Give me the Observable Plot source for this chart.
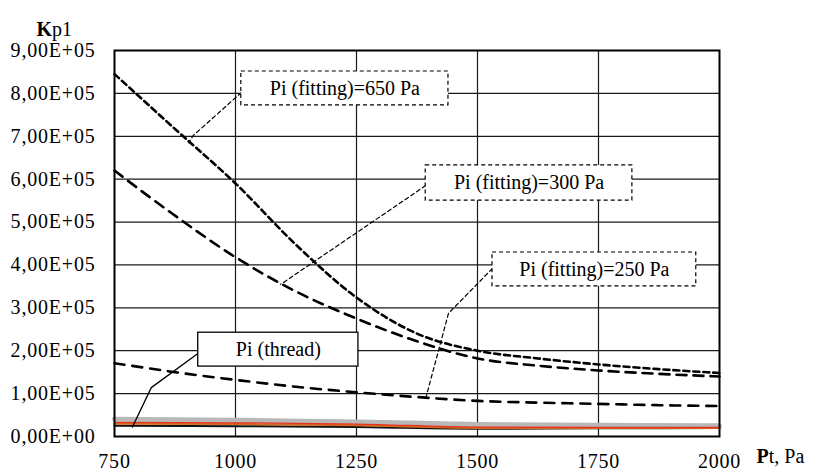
<!DOCTYPE html>
<html>
<head>
<meta charset="utf-8">
<script src="https://cdn.jsdelivr.net/npm/d3@7"></script>
<script src="https://cdn.jsdelivr.net/npm/@observablehq/plot@0.6"></script>
<style>
  html, body { margin: 0; padding: 0; background: #fff; }
</style>
</head>
<body>
<div id="chart"></div>
<script>
// ---- data ----
const xPts = [750, 875, 1000, 1125, 1250, 1375, 1500, 1625, 1750, 1875, 2000];
const kp650 = [845000, 717000, 590000, 447000, 324000, 240000, 200000, 182000, 168000, 157000, 148000];
const kp300 = [620000, 515000, 418000, 338000, 275000, 222000, 182000, 165000, 154000, 146000, 140000];
const kp250 = [171000, 150000, 132000, 116000, 103000, 92000, 83000, 79000, 76000, 73000, 71000];

const xThread = [750, 1000, 1250, 1500, 1750, 2000];
const threadGrey = [40000, 38000, 34000, 28000, 26000, 25000];
const threadRed = [33000, 32000, 29000, 22000, 21000, 21000];
const threadOrange = [30000, 29000, 26000, 20000, 20000, 20000];
const threadBlack = [25000, 24000, 22000, 18000, 19000, 20000];

const xTicks = [750, 1000, 1250, 1500, 1750, 2000];
const xTickLabels = ["750", "1000", "1250", "1500", "1750", "2000"];
const xGrid = [1000, 1250, 1500, 1750];
const yTicks = [0, 100000, 200000, 300000, 400000, 500000, 600000, 700000, 800000, 900000];
const yTickLabels = ["0,00E+00", "1,00E+05", "2,00E+05", "3,00E+05", "4,00E+05",
                     "5,00E+05", "6,00E+05", "7,00E+05", "8,00E+05", "9,00E+05"];

// annotation boxes (data units) and their texts
const boxLabels = ["Pi (fitting)=650 Pa", "Pi (fitting)=300 Pa", "Pi (fitting)=250 Pa", "Pi (thread)"];
const boxX1 = [1012, 1393, 1531, 923];
const boxX2 = [1440, 1820, 1952, 1254];
const boxY1 = [772000, 550000, 350000, 163000];
const boxY2 = [851000, 632000, 429000, 242000];
const boxDashed = [true, true, true, false];

// leader lines (data units), one array of points per box
const leader650 = [[1012, 802000], [913, 702000], [903, 685000]];
const leader300 = [[1393, 585000], [1099, 359000], [1093, 355000]];
const leader250 = [[1531, 392000], [1440, 287000], [1393, 89000]];
const leaderThread = [[928, 198000], [826, 114000], [787, 22000]];

// ---- build tables ----
const series = (xs, ys) => xs.map((x, i) => ({x, y: ys[i]}));
const pts = (arr) => arr.map(([x, y]) => ({x, y}));
const boxes = boxLabels.map((label, i) => ({
  label, x1: boxX1[i], x2: boxX2[i], y1: boxY1[i], y2: boxY2[i], dashed: boxDashed[i]
}));

const serif = "Liberation Serif, Times New Roman, serif";

const chart = Plot.plot({
  width: 813,
  height: 472,
  marginLeft: 114,
  marginRight: 94,
  marginTop: 50,
  marginBottom: 36,
  style: {fontFamily: serif, fontSize: "20px", background: "#fff", color: "#000", overflow: "visible"},
  x: {domain: [750, 2000], label: null},
  y: {domain: [0, 900000], label: null},
  marks: [
    Plot.gridY(yTicks, {stroke: "#1a1a1a", strokeOpacity: 1, strokeWidth: 1.2}),
    Plot.gridX(xGrid, {stroke: "#1a1a1a", strokeOpacity: 1, strokeWidth: 1.2}),

    // thread family near zero
    Plot.line(series(xThread, threadGrey), {x: "x", y: "y", stroke: "#b8b8b8", strokeWidth: 5, curve: "monotone-x"}),
    Plot.line(series(xThread, threadBlack), {x: "x", y: "y", stroke: "#111", strokeWidth: 2, curve: "monotone-x"}),
    Plot.line(series(xThread, threadOrange), {x: "x", y: "y", stroke: "#d2691e", strokeWidth: 2, curve: "monotone-x"}),
    Plot.line(series(xThread, threadRed), {x: "x", y: "y", stroke: "#e8321e", strokeWidth: 1.3, curve: "monotone-x"}),

    // fitting curves
    Plot.line(series(xPts, kp650), {x: "x", y: "y", stroke: "#000", strokeWidth: 2.6, strokeDasharray: "6,4", curve: "monotone-x"}),
    Plot.line(series(xPts, kp300), {x: "x", y: "y", stroke: "#000", strokeWidth: 2.6, strokeDasharray: "10,7", curve: "monotone-x"}),
    Plot.line(series(xPts, kp250), {x: "x", y: "y", stroke: "#000", strokeWidth: 2.6, strokeDasharray: "10,8", curve: "monotone-x"}),

    // leaders
    Plot.line(pts(leader650), {x: "x", y: "y", stroke: "#000", strokeWidth: 1.2, strokeDasharray: "4,3"}),
    Plot.line(pts(leader300), {x: "x", y: "y", stroke: "#000", strokeWidth: 1.2, strokeDasharray: "4,3"}),
    Plot.line(pts(leader250), {x: "x", y: "y", stroke: "#000", strokeWidth: 1.2, strokeDasharray: "4,3"}),
    Plot.line(pts(leaderThread), {x: "x", y: "y", stroke: "#000", strokeWidth: 1.3}),

    // boxes
    Plot.rect(boxes.filter(d => d.dashed), {x1: "x1", x2: "x2", y1: "y1", y2: "y2", fill: "#fff", stroke: "#000", strokeWidth: 1.2, strokeDasharray: "4,3"}),
    Plot.rect(boxes.filter(d => !d.dashed), {x1: "x1", x2: "x2", y1: "y1", y2: "y2", fill: "#fff", stroke: "#000", strokeWidth: 1.3}),
    Plot.text(boxes, {x: d => (d.x1 + d.x2) / 2, y: d => (d.y1 + d.y2) / 2, text: "label", fontSize: 20, fill: "#000"}),

    Plot.frame({stroke: "#000", strokeWidth: 2}),

    Plot.axisY(yTicks, {tickSize: 0, tickPadding: 19, fontSize: 20, tickFormat: d => yTickLabels[yTicks.indexOf(d)], label: null}),
    Plot.axisX(xTicks, {tickSize: 0, tickPadding: 17, fontSize: 20, tickFormat: d => xTickLabels[xTicks.indexOf(d)], label: null}),

    Plot.text(["Kp1"], {frameAnchor: "top-left", dx: -78, dy: -29, textAnchor: "start", fontSize: 20, fill: "#000"}),
    Plot.text(["Pt, Pa"], {frameAnchor: "bottom-right", dx: 37, dy: 26, textAnchor: "start", fontSize: 20, fill: "#000"})
  ]
});

document.getElementById("chart").appendChild(chart);

// styling touches: serif everywhere, bold initial letters, slightly wider tick labels
const svg = d3.select(chart);
svg.selectAll("g").attr("font-family", null).attr("font-variant", null);
svg.selectAll("text").each(function() {
  const t = this.textContent;
  const sel = d3.select(this).attr("font-variant", null).style("font-family", "'Liberation Serif'").style("font-variant", "normal");
  this.textContent = "";
  if (t === "Kp1") { sel.append("tspan").attr("font-weight", "bold").text("K"); sel.append("tspan").text("p1"); }
  else if (t === "Pt, Pa") { sel.append("tspan").attr("font-weight", "bold").text("P"); sel.append("tspan").text("t, Pa"); }
  else { sel.append("tspan").text(t); }
});
svg.selectAll('g[aria-label$="tick label"] text').attr("letter-spacing", "0.8px");
</script>
</body>
</html>
